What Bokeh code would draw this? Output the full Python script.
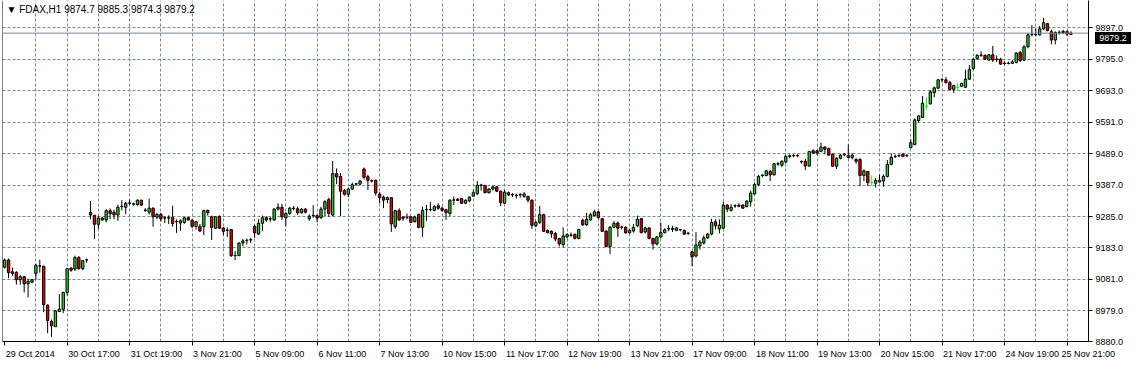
from bokeh.plotting import figure
from bokeh.models import ColumnDataSource, FixedTicker, Span, Label, NumeralTickFormatter, LinearAxis, Div
from bokeh.layouts import column
from bokeh.embed import file_html
from bokeh.resources import INLINE

symbol = "FDAX,H1"

opens = [
    9121, 9144, 9106, 9104, 9080, 9090, 9067, 9072, 9101, 9124,
    9124, 8998, 8945, 8928, 8977, 8984, 9039, 9118, 9115, 9152,
    9116, 9144, 9298, 9289, 9260, 9274, 9274, 9304, 9299, 9290,
    9317, 9315, 9328, 9325, 9324, 9338, 9305, 9299, 9312, 9283,
    9292, 9280, 9280, 9282, 9268, 9264, 9266, 9281, 9273, 9253,
    9253, 9253, 9305, 9284, 9247, 9286, 9248, 9240, 9243, 9158,
    9158, 9199, 9207, 9209, 9253, 9228, 9263, 9281, 9277, 9274,
    9309, 9315, 9281, 9295, 9311, 9310, 9297, 9309, 9278, 9288,
    9288, 9281, 9309, 9340, 9290, 9424, 9415, 9369, 9357, 9374,
    9390, 9390, 9439, 9414, 9400, 9402, 9358, 9348, 9340, 9346,
    9252, 9304, 9279, 9282, 9284, 9268, 9292, 9250, 9307, 9307,
    9305, 9320, 9312, 9307, 9295, 9338, 9341, 9343, 9328, 9336,
    9351, 9359, 9386, 9386, 9362, 9374, 9381, 9367, 9328, 9362,
    9355, 9353, 9355, 9350, 9350, 9338, 9255, 9266, 9291, 9240,
    9237, 9230, 9214, 9194, 9219, 9224, 9227, 9214, 9273, 9258,
    9274, 9288, 9300, 9278, 9238, 9188, 9250, 9264, 9250, 9250,
    9232, 9238, 9255, 9278, 9235, 9248, 9214, 9196, 9219, 9233,
    9245, 9246, 9240, 9242, 9240, 9230, 9171, 9157, 9190, 9199,
    9216, 9228, 9268, 9245, 9247, 9322, 9305, 9319, 9318, 9322,
    9317, 9333, 9358, 9389, 9418, 9418, 9431, 9420, 9455, 9451,
    9462, 9479, 9482, 9482, 9462, 9464, 9449, 9498, 9498, 9496,
    9510, 9505, 9487, 9448, 9474, 9485, 9482, 9476, 9470, 9470,
    9418, 9431, 9395, 9393, 9397, 9400, 9415, 9454, 9479, 9482,
    9487, 9482, 9508, 9518, 9596, 9606, 9642, 9650, 9686, 9701,
    9728, 9728, 9719, 9697, 9704, 9707, 9704, 9730, 9764, 9797,
    9807, 9807, 9792, 9809, 9794, 9795, 9781, 9781, 9781, 9784,
    9817, 9792, 9835, 9874, 9874, 9874, 9893, 9910, 9884, 9857,
    9881, 9881, 9884, 9874.7,
]

highs = [
    9149, 9149, 9120, 9108, 9096, 9093, 9084, 9083, 9132, 9145,
    9125, 9000, 8951, 8982, 9034, 9041, 9118, 9121, 9158, 9157,
    9144, 9149, 9335, 9289, 9286, 9284, 9309, 9311, 9307, 9323,
    9338, 9333, 9340, 9330, 9340, 9339, 9312, 9343, 9315, 9297,
    9297, 9286, 9289, 9320, 9276, 9276, 9284, 9284, 9276, 9271,
    9261, 9307, 9307, 9288, 9286, 9288, 9250, 9250, 9243, 9173,
    9202, 9212, 9214, 9216, 9258, 9276, 9288, 9286, 9284, 9312,
    9328, 9326, 9299, 9317, 9319, 9317, 9312, 9312, 9292, 9322,
    9292, 9317, 9338, 9346, 9465, 9441, 9426, 9374, 9379, 9395,
    9394, 9404, 9444, 9420, 9405, 9405, 9364, 9353, 9350, 9348,
    9307, 9312, 9286, 9295, 9286, 9288, 9294, 9317, 9322, 9333,
    9322, 9328, 9317, 9310, 9341, 9350, 9345, 9345, 9340, 9350,
    9371, 9400, 9391, 9387, 9377, 9386, 9384, 9369, 9371, 9366,
    9361, 9359, 9361, 9364, 9353, 9340, 9271, 9319, 9294, 9243,
    9240, 9235, 9216, 9250, 9230, 9233, 9230, 9245, 9278, 9297,
    9297, 9307, 9302, 9281, 9240, 9255, 9271, 9269, 9255, 9253,
    9245, 9261, 9288, 9281, 9252, 9250, 9216, 9222, 9266, 9247,
    9257, 9255, 9251, 9245, 9243, 9235, 9173, 9235, 9209, 9224,
    9232, 9278, 9276, 9276, 9333, 9325, 9325, 9325, 9328, 9325,
    9338, 9369, 9395, 9420, 9422, 9436, 9436, 9459, 9462, 9467,
    9484, 9486, 9487, 9487, 9467, 9472, 9498, 9503, 9501, 9524,
    9513, 9508, 9489, 9477, 9487, 9490, 9518, 9490, 9474, 9474,
    9438, 9433, 9418, 9410, 9420, 9422, 9468, 9490, 9486, 9487,
    9489, 9487, 9534, 9603, 9613, 9675, 9671, 9694, 9706, 9730,
    9733, 9737, 9725, 9712, 9716, 9719, 9761, 9776, 9799, 9812,
    9820, 9810, 9812, 9838, 9807, 9799, 9787, 9787, 9792, 9817,
    9821, 9840, 9879, 9905, 9895, 9903, 9929, 9913, 9890, 9885,
    9888, 9890, 9888, 9885.3,
]

lows = [
    9116, 9085, 9093, 9064, 9064, 9039, 9023, 9070, 9080, 9103,
    8975, 8907, 8895, 8927, 8977, 8972, 9029, 9106, 9109, 9113,
    9111, 9135, 9276, 9212, 9245, 9271, 9266, 9276, 9276, 9271,
    9305, 9292, 9323, 9320, 9320, 9319, 9300, 9292, 9252, 9276,
    9269, 9264, 9261, 9252, 9232, 9238, 9261, 9271, 9248, 9243,
    9235, 9225, 9288, 9209, 9245, 9245, 9224, 9219, 9154, 9144,
    9157, 9188, 9194, 9199, 9216, 9225, 9237, 9268, 9268, 9271,
    9305, 9274, 9253, 9291, 9305, 9291, 9295, 9295, 9271, 9281,
    9266, 9278, 9286, 9284, 9286, 9390, 9286, 9353, 9348, 9371,
    9384, 9387, 9405, 9371, 9395, 9353, 9328, 9312, 9328, 9235,
    9245, 9271, 9271, 9276, 9264, 9266, 9247, 9219, 9271, 9302,
    9302, 9307, 9300, 9274, 9286, 9322, 9335, 9326, 9326, 9331,
    9348, 9354, 9369, 9361, 9360, 9369, 9364, 9319, 9326, 9351,
    9348, 9343, 9346, 9346, 9330, 9245, 9250, 9261, 9235, 9230,
    9216, 9204, 9188, 9185, 9214, 9219, 9211, 9211, 9255, 9255,
    9271, 9286, 9279, 9235, 9185, 9163, 9247, 9219, 9243, 9230,
    9230, 9233, 9250, 9230, 9230, 9211, 9178, 9191, 9214, 9230,
    9237, 9235, 9237, 9237, 9225, 9225, 9124, 9152, 9178, 9194,
    9212, 9224, 9243, 9230, 9245, 9299, 9301, 9313, 9315, 9310,
    9315, 9317, 9356, 9384, 9412, 9415, 9400, 9418, 9449, 9446,
    9457, 9474, 9477, 9477, 9456, 9436, 9446, 9487, 9484, 9493,
    9487, 9482, 9446, 9439, 9470, 9480, 9472, 9470, 9456, 9384,
    9400, 9384, 9384, 9379, 9395, 9381, 9412, 9451, 9474, 9477,
    9477, 9477, 9506, 9516, 9591, 9604, 9632, 9648, 9671, 9698,
    9719, 9716, 9694, 9685, 9694, 9704, 9702, 9728, 9761, 9792,
    9802, 9792, 9789, 9786, 9786, 9776, 9776, 9778, 9779, 9781,
    9786, 9789, 9830, 9869, 9869, 9871, 9890, 9885, 9843, 9843,
    9874, 9876, 9871, 9874.3,
]

closes = [
    9144, 9103, 9101, 9080, 9090, 9067, 9075, 9080, 9127, 9125,
    9000, 8948, 8931, 8979, 8985, 9039, 9116, 9111, 9152, 9116,
    9142, 9145, 9290, 9260, 9280, 9280, 9304, 9294, 9290, 9315,
    9318, 9328, 9329, 9326, 9338, 9322, 9306, 9312, 9284, 9292,
    9278, 9281, 9281, 9262, 9269, 9271, 9281, 9274, 9253, 9268,
    9238, 9304, 9297, 9250, 9284, 9247, 9237, 9241, 9158, 9159,
    9199, 9206, 9208, 9210, 9232, 9263, 9281, 9274, 9278, 9309,
    9315, 9284, 9295, 9312, 9312, 9297, 9309, 9299, 9286, 9289,
    9280, 9309, 9333, 9295, 9424, 9413, 9367, 9357, 9374, 9388,
    9391, 9400, 9412, 9402, 9401, 9361, 9346, 9338, 9346, 9261,
    9304, 9274, 9283, 9283, 9266, 9283, 9250, 9305, 9308, 9308,
    9317, 9312, 9305, 9297, 9338, 9339, 9337, 9328, 9338, 9348,
    9362, 9386, 9387, 9362, 9374, 9381, 9367, 9330, 9364, 9355,
    9356, 9354, 9356, 9358, 9338, 9257, 9266, 9291, 9237, 9233,
    9229, 9212, 9196, 9222, 9227, 9225, 9214, 9243, 9258, 9276,
    9291, 9300, 9281, 9237, 9188, 9250, 9263, 9247, 9251, 9232,
    9240, 9250, 9276, 9233, 9248, 9214, 9196, 9219, 9233, 9242,
    9246, 9243, 9248, 9243, 9228, 9231, 9154, 9193, 9202, 9216,
    9228, 9266, 9255, 9257, 9322, 9309, 9315, 9320, 9321, 9312,
    9335, 9361, 9389, 9415, 9419, 9433, 9420, 9456, 9456, 9464,
    9480, 9482, 9483, 9483, 9463, 9449, 9496, 9491, 9491, 9510,
    9503, 9484, 9448, 9474, 9484, 9486, 9476, 9484, 9464, 9418,
    9433, 9395, 9395, 9402, 9402, 9415, 9454, 9477, 9480, 9483,
    9480, 9483, 9524, 9598, 9611, 9652, 9642, 9689, 9702, 9728,
    9729, 9719, 9697, 9709, 9704, 9716, 9730, 9761, 9795, 9807,
    9808, 9795, 9809, 9792, 9795, 9779, 9782, 9782, 9786, 9815,
    9790, 9835, 9874, 9875, 9875, 9893, 9913, 9888, 9857, 9881,
    9882, 9885, 9876, 9879.2,
]

# time-axis labels: one every 16 hourly bars, starting at the first bar
time_labels = [
    "29 Oct 2014", "30 Oct 17:00", "31 Oct 19:00", "3 Nov 21:00", "5 Nov 09:00",
    "6 Nov 11:00", "7 Nov 13:00", "10 Nov 15:00", "11 Nov 17:00", "12 Nov 19:00",
    "13 Nov 21:00", "17 Nov 09:00", "18 Nov 11:00", "19 Nov 13:00", "20 Nov 15:00",
    "21 Nov 17:00", "24 Nov 19:00", "25 Nov 21:00",
]
bars_per_label = 16

price_ticks = [8880.0, 8979.0, 9081.0, 9183.0, 9285.0, 9387.0, 9489.0, 9591.0, 9693.0, 9795.0, 9897.0]

# ---------------------------------------------------------------
BULL = "#2ECC2E"
BEAR = "#EE0000"
LIME = "#00FF00"
GRID = "#778899"
FONT = "Liberation Sans"
FS = 9  # px

n = len(closes)
xs = list(range(n))
his = [max(h, o, c) for h, o, c in zip(highs, opens, closes)]
los = [min(l, o, c) for l, o, c in zip(lows, opens, closes)]
tops = [max(o, c) for o, c in zip(opens, closes)]
bots = [min(o, c) for o, c in zip(opens, closes)]
fills = [BULL if c > o else (BEAR if c < o else LIME) for o, c in zip(opens, closes)]
lines = ["black" if c != o else LIME for o, c in zip(opens, closes)]

src = ColumnDataSource(dict(x=xs, hi=his, lo=los, top=tops, bot=bots, fill=fills, line=lines))

W, H = 1130, 365
BL, BR, BB = 2, 42, 24
x0, x1 = -0.55, n - 1 + 4.5
y0, y1 = 8880.0, 9985.0
px_per_bar = (W - BL - BR) / (x1 - x0)

label_bars = [i * bars_per_label for i in range(len(time_labels))]

# approximate text width (Liberation Sans) so each time label can start at its tick
_em = {" ": 0.278, ":": 0.278, "N": 0.722, "O": 0.778, "o": 0.556, "v": 0.5, "c": 0.5, "t": 0.278}
def text_w(s):
    return sum(_em.get(ch, 0.556) for ch in s) * FS

label_pos = [round(min(b + (text_w(t) / 2 + 1) / px_per_bar, x1 - 0.05), 3)
             for b, t in zip(label_bars, time_labels)]

p = figure(width=W, height=H, x_range=(x0, x1), y_range=(y0, y1),
           toolbar_location=None, output_backend="svg", y_axis_location="right",
           min_border_left=BL, min_border_right=BR, min_border_top=0, min_border_bottom=BB)
p.background_fill_color = "white"
p.border_fill_color = "white"
p.outline_line_color = None

# time axis: tick marks (no text) ...
ax = p.xaxis[0]
ax.ticker = FixedTicker(ticks=label_bars)
ax.major_label_overrides = {b: "" for b in label_bars}
ax.major_label_text_font_size = "0px"
ax.major_label_standoff = 0
ax.axis_line_color = "black"
ax.major_tick_line_color = "black"
ax.major_tick_in = 0
ax.major_tick_out = 4
ax.minor_tick_line_color = None

# ... and the labels, each starting just right of its tick
ax2 = LinearAxis(ticker=FixedTicker(ticks=label_pos),
                 major_label_overrides={pos: t for pos, t in zip(label_pos, time_labels)},
                 axis_line_color=None, major_tick_line_color=None, minor_tick_line_color=None,
                 major_tick_in=0, major_tick_out=0, major_label_standoff=3,
                 major_label_text_font=FONT, major_label_text_font_size=f"{FS}px",
                 major_label_text_color="black")
p.add_layout(ax2, "below")

ay = p.yaxis[0]
ay.ticker = FixedTicker(ticks=price_ticks)
ay.formatter = NumeralTickFormatter(format="0.0")
ay.major_label_text_font = FONT
ay.major_label_text_font_size = f"{FS}px"
ay.major_label_text_color = "black"
ay.major_label_standoff = 3
ay.axis_line_color = "black"
ay.major_tick_line_color = "black"
ay.major_tick_in = 0
ay.major_tick_out = 4
ay.minor_tick_line_color = None

# grids
p.ygrid.ticker = FixedTicker(ticks=price_ticks)
p.xgrid.ticker = FixedTicker(ticks=list(range(bars_per_label // 2, n, bars_per_label // 2)))
for g in (p.xgrid[0], p.ygrid[0]):
    g.grid_line_color = GRID
    g.grid_line_dash = "3 2"
    g.grid_line_width = 1

# left border
p.add_layout(Span(location=x0, dimension="height", line_color="black", line_width=1))

# current price line
p.add_layout(Span(location=closes[-1], dimension="width", line_color=GRID, line_width=1))

# candles
p.segment(x0="x", y0="hi", x1="x", y1="lo", line_color="line", line_width=1, source=src)
p.vbar(x="x", width=0.6, top="top", bottom="bot", fill_color="fill", line_color="line",
       line_width=1, source=src)

# title
p.add_layout(Label(x=x0, y=y1, x_offset=4, y_offset=-3, text_baseline="top",
                   text=f"\u25BC {symbol}  {opens[-1]:.1f} {highs[-1]:.1f} {lows[-1]:.1f} {closes[-1]:.1f}",
                   text_font=FONT, text_font_size="10px", text_color="black"))

# current-price tag over the price scale (annotations are clipped to the frame, so use an overlay)
frame_h = H - BB
tag_y = (y1 - closes[-1]) / (y1 - y0) * frame_h
tag = Div(text=f"{closes[-1]:.1f}", width=36, height=12,
          styles={"position": "absolute", "left": f"{W - BR + 2}px", "top": f"{tag_y - 6:.0f}px",
                  "background-color": "black", "color": "white", "font-family": FONT,
                  "font-size": f"{FS}px", "line-height": "12px", "text-align": "center",
                  "z-index": "10"})

layout = column(p, tag)
open("out.html", "w").write(file_html(layout, INLINE))
